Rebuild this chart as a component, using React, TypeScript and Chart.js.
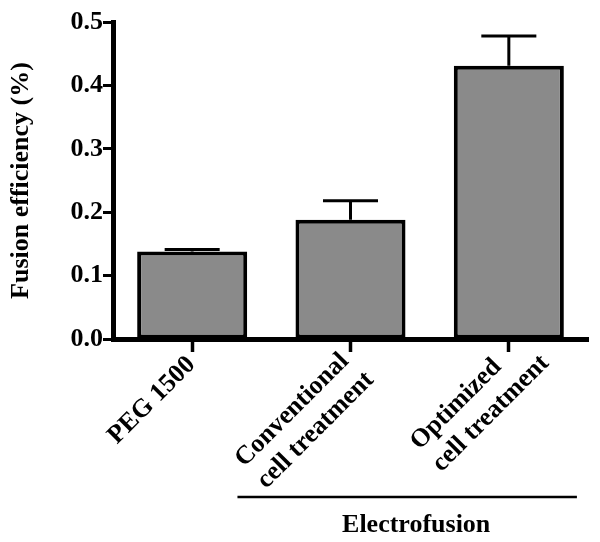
import React, { useEffect, useRef } from 'react';
import { Chart, registerables } from 'chart.js';

Chart.register(...registerables);

const categories: string[][] = [['PEG 1500'], ['Conventional', 'cell treatment'], ['Optimized', 'cell treatment']];
const means: number[] = [0.138, 0.188, 0.431];
const errors: number[] = [0.003, 0.03, 0.047];
const yMin = 0;
const yMax = 0.5;
const yStep = 0.1;
const yTitle = 'Fusion efficiency (%)';
const groupLabel = 'Electrofusion';
const groupStart = 1;
const groupEnd = 2;

const FONT = '"Liberation Serif", "Times New Roman", serif';
const FONT_SIZE = 26;

const errorBars = {
  id: 'errorBars',
  afterDatasetsDraw(chart: any) {
    const meta = chart.getDatasetMeta(0);
    const ys = chart.scales.y;
    const ctx = chart.ctx;
    ctx.save();
    ctx.strokeStyle = '#000';
    ctx.lineWidth = 3;
    meta.data.forEach((bar: any, i: number) => {
      const { x, width } = bar.getProps(['x', 'width'], true);
      const base = ys.getPixelForValue(means[i]);
      const top = ys.getPixelForValue(means[i] + errors[i]);
      const half = width / 4;
      ctx.beginPath();
      ctx.moveTo(x, base);
      ctx.lineTo(x, top);
      ctx.moveTo(x - half, top);
      ctx.lineTo(x + half, top);
      ctx.stroke();
    });
    ctx.restore();
  },
};

const xLabels = {
  id: 'xLabels',
  afterDraw(chart: any) {
    const xs = chart.scales.x;
    const ctx = chart.ctx;
    const axisY = chart.chartArea.bottom;
    ctx.save();
    ctx.font = `bold ${FONT_SIZE}px ${FONT}`;
    ctx.fillStyle = '#000';
    ctx.textAlign = 'left';
    ctx.textBaseline = 'middle';
    const lh = 31;
    categories.forEach((lines, i) => {
      const px = xs.getPixelForValue(i);
      const widths = lines.map((l) => ctx.measureText(l).width);
      const wmax = Math.max(...widths);
      const end0 = -16 - 0.25 * (wmax - widths[0]);
      const start = end0 - widths[0];
      const y0 = 15 - 6 * (lines.length - 1);
      ctx.save();
      ctx.translate(px, axisY);
      ctx.rotate(-Math.PI / 4);
      lines.forEach((l, j) => ctx.fillText(l, start, y0 + j * lh));
      ctx.restore();
    });
    ctx.restore();
  },
};

const groupBracket = {
  id: 'groupBracket',
  afterDraw(chart: any) {
    const xs = chart.scales.x;
    const ctx = chart.ctx;
    const step = xs.getPixelForValue(1) - xs.getPixelForValue(0);
    const x1 = xs.getPixelForValue(groupStart) - step * 0.714;
    const x2 = xs.getPixelForValue(groupEnd) + step * 0.43;
    const y = chart.chartArea.bottom + 158;
    ctx.save();
    ctx.strokeStyle = '#000';
    ctx.lineWidth = 2.5;
    ctx.beginPath();
    ctx.moveTo(x1, y);
    ctx.lineTo(x2, y);
    ctx.stroke();
    ctx.fillStyle = '#000';
    ctx.font = `bold ${FONT_SIZE}px ${FONT}`;
    ctx.textAlign = 'center';
    ctx.textBaseline = 'middle';
    ctx.fillText(groupLabel, (x1 + x2) / 2 + 9, y + 28);
    ctx.restore();
  },
};

export default function App() {
  const ref = useRef<HTMLCanvasElement | null>(null);
  useEffect(() => {
    if (!ref.current) return;
    const chart = new Chart(ref.current, {
      type: 'bar',
      data: {
        labels: categories.map((c) => c.join(' ')),
        datasets: [
          {
            data: means,
            backgroundColor: '#8a8a8a',
            borderColor: '#000',
            borderWidth: 4,
            borderSkipped: false,
            barPercentage: 0.695,
            categoryPercentage: 1,
          },
        ],
      },
      options: {
        responsive: false,
        animation: false,
        layout: { padding: { top: 22, right: 12, left: 0, bottom: 0 } },
        plugins: { legend: { display: false }, tooltip: { enabled: false } },
        scales: {
          x: {
            offset: true,
            grid: { display: true, drawOnChartArea: false, offset: false, tickLength: 13, tickWidth: 3.5, tickColor: '#000' },
            border: { display: true, color: '#000', width: 5 },
            ticks: { display: false, autoSkip: false },
            afterFit(scale: any) {
              scale.height = 203;
            },
          },
          y: {
            min: yMin,
            max: yMax,
            grid: { display: true, drawOnChartArea: false, tickLength: 10, tickWidth: 3, tickColor: '#000' },
            border: { display: true, color: '#000', width: 5 },
            ticks: {
              stepSize: yStep,
              color: '#000',
              padding: 0,
              font: { family: FONT, size: FONT_SIZE, weight: 'bold' },
              callback: (v: any) => Number(v).toFixed(1),
            },
            title: {
              display: true,
              text: yTitle,
              color: '#000',
              font: { family: FONT, size: FONT_SIZE, weight: 'bold' },
              padding: { top: 6, bottom: 0 },
            },
            afterFit(scale: any) {
              scale.width = 113;
            },
          },
        },
      },
      plugins: [errorBars, xLabels, groupBracket],
    });
    return () => chart.destroy();
  }, []);
  return (
    <div style={{ position: 'absolute', left: 0, top: 0, width: 600, height: 542, background: '#fff' }}>
      <canvas ref={ref} width={600} height={542} />
    </div>
  );
}
